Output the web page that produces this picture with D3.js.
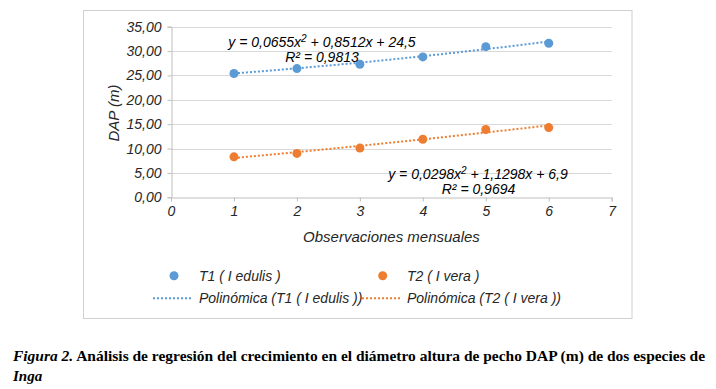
<!DOCTYPE html>
<html><head><meta charset="utf-8">
<script src="https://cdn.jsdelivr.net/npm/d3@7"></script>
<style>
html,body{margin:0;padding:0;background:#fff;}
svg{display:block;}
</style></head>
<body>
<svg id="chart" width="716" height="389"></svg>
<script>
// Data
const observations = [1, 2, 3, 4, 5, 6];
const t1Values = [25.4, 26.4, 27.3, 28.8, 30.9, 31.6];
const t2Values = [8.3, 9.0, 10.1, 11.9, 13.9, 14.3];
const t1Coef = [0.0655, 0.8512, 24.5]; // a x^2 + b x + c
const t2Coef = [0.0298, 1.1298, 6.9];
const xTicks = [0, 1, 2, 3, 4, 5, 6, 7];
const yTicks = [0, 5, 10, 15, 20, 25, 30, 35];
const seriesNames = ["T1 ( I edulis )", "T2 ( I vera )"];
const trendNames = ["Polinómica (T1 ( I edulis ))", "Polinómica (T2 ( I vera ))"];
const r2Labels = ["R² = 0,9813", "R² = 0,9694"];

const blue = "#5B9BD5", orange = "#ED7D31";
const svg = d3.select("#chart");
const font = "'Liberation Sans', Arial, sans-serif";

// chart border
svg.append("rect").attr("x", 83.5).attr("y", 10.5).attr("width", 548.5).attr("height", 308)
  .attr("fill", "none").attr("stroke", "#d0d0d0").attr("stroke-width", 1);

const x = d3.scaleLinear().domain([0, 7]).range([171, 611.7]);
const y = d3.scaleLinear().domain([0, 35]).range([197.3, 26.7]);

// gridlines
svg.append("g").selectAll("line").data(yTicks.filter(d => d > 0)).join("line")
  .attr("x1", x(0)).attr("x2", x(7))
  .attr("y1", d => Math.round(y(d)) + 0.5).attr("y2", d => Math.round(y(d)) + 0.5)
  .attr("stroke", "#d9d9d9").attr("stroke-width", 1);

// y axis
const yAxis = svg.append("g").attr("transform", `translate(${Math.round(x(0)) + 0.5},0)`)
  .call(d3.axisLeft(y).tickValues(yTicks).tickSize(4).tickPadding(6)
    .tickFormat(d => d3.format(".2f")(d).replace(".", ",")));
yAxis.select(".domain").attr("stroke", "#bfbfbf");
yAxis.selectAll(".tick line").attr("stroke", "#bfbfbf");
yAxis.selectAll(".tick text").attr("font-family", font).attr("font-size", 14)
  .attr("font-style", "italic").attr("fill", "#262626");

// x axis
const xAxis = svg.append("g").attr("transform", `translate(0,${Math.round(y(0)) + 0.5})`)
  .call(d3.axisBottom(x).tickValues(xTicks).tickSize(4).tickPadding(5).tickFormat(d3.format("d")));
xAxis.select(".domain").attr("stroke", "#bfbfbf");
xAxis.selectAll(".tick line").attr("stroke", "#bfbfbf");
xAxis.selectAll(".tick text").attr("font-family", font).attr("font-size", 14)
  .attr("font-style", "italic").attr("fill", "#262626");

// axis titles
svg.append("text").attr("x", 391.5).attr("y", 242).attr("text-anchor", "middle")
  .attr("font-family", font).attr("font-size", 15).attr("font-style", "italic").attr("fill", "#262626")
  .text("Observaciones mensuales");
svg.append("text").attr("transform", "translate(119,113) rotate(-90)").attr("text-anchor", "middle")
  .attr("font-family", font).attr("font-size", 15).attr("font-style", "italic").attr("fill", "#262626")
  .text("DAP (m)");

// trend lines
const poly = c => v => c[0] * v * v + c[1] * v + c[2];
const xs = d3.range(1, 6.0001, 0.05);
const line = d3.line().x(d => x(d[0])).y(d => y(d[1]));
[[t1Coef, blue], [t2Coef, orange]].forEach(([c, col]) => {
  const f = poly(c);
  svg.append("path").attr("d", line(xs.map(v => [v, f(v)])))
    .attr("fill", "none").attr("stroke", col).attr("stroke-width", 2)
    .attr("stroke-dasharray", "2 2");
});

// points
[[t1Values, blue], [t2Values, orange]].forEach(([vals, col]) => {
  svg.append("g").selectAll("circle").data(observations).join("circle")
    .attr("cx", (d) => x(d)).attr("cy", (d, i) => y(vals[i])).attr("r", 4.5)
    .attr("fill", col);
});

// equations
function equation(cx, cy, c) {
  const fmt = v => String(v).replace(".", ",");
  const t = svg.append("text").attr("x", cx).attr("y", cy).attr("text-anchor", "middle")
    .attr("font-family", font).attr("font-size", 14).attr("font-style", "italic").attr("fill", "#000");
  t.append("tspan").text(`y = ${fmt(c[0])}x`);
  t.append("tspan").attr("dy", -5).attr("font-size", 10).text("2");
  t.append("tspan").attr("dy", 5).text(` + ${fmt(c[1])}x + ${fmt(c[2])}`);
}
equation(322, 46.5, t1Coef);
svg.append("text").attr("x", 322).attr("y", 61.5).attr("text-anchor", "middle")
  .attr("font-family", font).attr("font-size", 14).attr("font-style", "italic").text(r2Labels[0]);
equation(478, 179, t2Coef);
svg.append("text").attr("x", 478.5).attr("y", 194).attr("text-anchor", "middle")
  .attr("font-family", font).attr("font-size", 14).attr("font-style", "italic").text(r2Labels[1]);

// legend
const legend = svg.append("g");
const legPts = [[174, blue, 199, seriesNames[0]], [382.7, orange, 407, seriesNames[1]]];
legPts.forEach(([cx, col, tx, name]) => {
  legend.append("circle").attr("cx", cx).attr("cy", 275.7).attr("r", 4.5).attr("fill", col);
  legend.append("text").attr("x", tx).attr("y", 280.5).attr("font-family", font).attr("font-size", 14)
    .attr("font-style", "italic").attr("fill", "#262626").text(name);
});
const legLines = [[153, 191.5, blue, 199, trendNames[0]], [362, 400, orange, 407, trendNames[1]]];
legLines.forEach(([x1, x2, col, tx, name]) => {
  legend.append("line").attr("x1", x1).attr("x2", x2).attr("y1", 298.3).attr("y2", 298.3)
    .attr("stroke", col).attr("stroke-width", 2).attr("stroke-dasharray", "2 2");
  legend.append("text").attr("x", tx).attr("y", 303).attr("font-family", font).attr("font-size", 14)
    .attr("font-style", "italic").attr("fill", "#262626").text(name);
});

// caption
const serif = "'Liberation Serif', 'DejaVu Serif', serif";
const cap = svg.append("text").attr("x", 13).attr("y", 360.5).attr("font-family", serif)
  .attr("font-size", 15).attr("font-weight", "bold").attr("fill", "#000")
  .attr("textLength", 692).attr("lengthAdjust", "spacingAndGlyphs");
cap.append("tspan").attr("font-style", "italic").text("Figura 2.");
cap.append("tspan").text(" Análisis de regresión del crecimiento en el diámetro altura de pecho DAP (m) de dos especies de");
svg.append("text").attr("x", 13).attr("y", 380.5).attr("font-family", serif)
  .attr("font-size", 15).attr("font-weight", "bold").attr("font-style", "italic").text("Inga");
</script>
</body></html>
